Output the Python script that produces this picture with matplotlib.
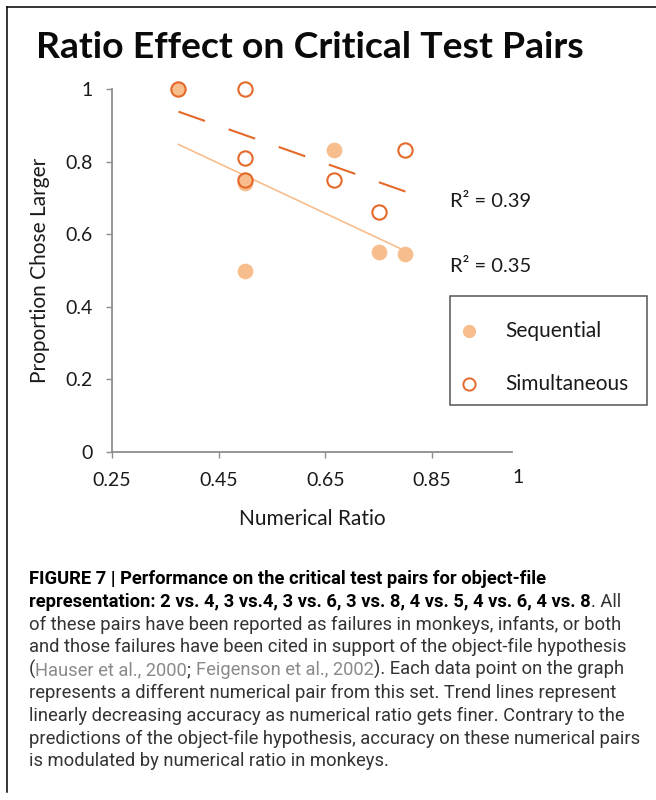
import numpy as np
import matplotlib
matplotlib.use('Agg')
import matplotlib.pyplot as plt
from matplotlib import font_manager
from matplotlib.lines import Line2D
from matplotlib.patches import Rectangle
from matplotlib.transforms import ScaledTranslation

# ---------------- data ----------------
ratio_seq = [0.375, 0.5, 0.5, 0.5, 0.667, 0.75, 0.8]
prop_seq = [1.0, 0.75, 0.74, 0.5, 0.833, 0.55, 0.545]
ratio_sim = [0.375, 0.5, 0.5, 0.5, 0.667, 0.75, 0.8]
prop_sim = [1.0, 1.0, 0.81, 0.75, 0.75, 0.66, 0.833]
x_ticks = [0.25, 0.45, 0.65, 0.85, 1.0]
x_tick_labels = ['0.25', '0.45', '0.65', '0.85', '1']
y_ticks = [0, 0.2, 0.4, 0.6, 0.8, 1.0]
y_tick_labels = ['0', '0.2', '0.4', '0.6', '0.8', '1']
series_names = ['Sequential', 'Simultaneous']
r2_labels = ['R\u00b2 = 0.39', 'R\u00b2 = 0.35']
title = 'Ratio Effect on Critical Test Pairs'
x_label = 'Numerical Ratio'
y_label = 'Proportion Chose Larger'

caption_lines = [
    [("FIGURE 7 | Performance on the critical test pairs for object-file", 'b')],
    [("representation: 2 vs. 4, 3 vs.4, 3 vs. 6, 3 vs. 8, 4 vs. 5, 4 vs. 6, 4 vs. 8", 'b'), (". All", 'r')],
    [("of these pairs have been reported as failures in monkeys, infants, or both", 'r')],
    [("and those failures have been cited in support of the object-file hypothesis", 'r')],
    [("(", 'r'), ("Hauser et al., 2000", 'l'), ("; ", 'r'), ("Feigenson et al., 2002", 'l'),
     ("). Each data point on the graph", 'r')],
    [("represents a different numerical pair from this set. Trend lines represent", 'r')],
    [("linearly decreasing accuracy as numerical ratio gets finer. Contrary to the", 'r')],
    [("predictions of the object-file hypothesis, accuracy on these numerical pairs", 'r')],
    [("is modulated by numerical ratio in monkeys.", 'r')],
]

# ---------------- style ----------------
W, H = 656, 800
SEQ_COLOR = '#F8BD8D'
SIM_COLOR = '#E4692A'
AXIS_COLOR = '#8E8E8E'
TXT = '#1a1a1a'

available = {f.name for f in font_manager.fontManager.ttflist}
MAIN_FONT = 'Lato' if 'Lato' in available else 'DejaVu Sans'
CAP_FONT = 'Liberation Sans Narrow' if 'Liberation Sans Narrow' in available else 'Roboto'

fig = plt.figure(figsize=(W / 100, H / 100), dpi=100)
renderer = fig.canvas.get_renderer()


def fx(px):
    return px / W


def fy(py):
    return 1 - py / H


ax = fig.add_axes([fx(111.7), fy(452), fx(512.3) - fx(111.7), fy(89) - fy(452)])
ax.set_xlim(0.25, 1.0)
ax.set_ylim(0, 1)

# trend lines
xs_seq = np.array(ratio_seq)
xs_sim = np.array(ratio_sim)
p_seq = np.polyfit(xs_seq, prop_seq, 1)
p_sim = np.polyfit(xs_sim, prop_sim, 1)
xl = np.array([xs_seq.min(), xs_seq.max()])
ax.plot(xl, np.polyval(p_seq, xl), color=SEQ_COLOR, lw=1.2, zorder=2)
xl2 = np.array([xs_sim.min(), xs_sim.max()])
ax.plot(xl2, np.polyval(p_sim, xl2), color=SIM_COLOR, lw=1.5,
        linestyle=(0, (13.5, 12)), zorder=2)

# points
ax.plot(ratio_seq, prop_seq, linestyle='none', marker='o', ms=11.3,
        mfc=SEQ_COLOR, mec=SEQ_COLOR, mew=0, clip_on=False, zorder=3)
ax.plot(ratio_sim, prop_sim, linestyle='none', marker='o', ms=10.3,
        mfc='none', mec=SIM_COLOR, mew=1.5, clip_on=False, zorder=4)

# axes styling
for s in ['top', 'right']:
    ax.spines[s].set_visible(False)
for s in ['left', 'bottom']:
    ax.spines[s].set_color(AXIS_COLOR)
    ax.spines[s].set_linewidth(1.3)
ax.set_xticks(x_ticks)
ax.set_xticklabels(x_tick_labels)
ax.set_yticks(y_ticks)
ax.set_yticklabels(y_tick_labels)
ax.tick_params(axis='x', direction='out', length=4.5, width=1.0, color=AXIS_COLOR,
               pad=10, labelsize=14, labelcolor=TXT)
ax.tick_params(axis='y', direction='out', length=4.5, width=1.0, color=AXIS_COLOR,
               pad=9, labelsize=14, labelcolor=TXT)
for lab in ax.get_xticklabels() + ax.get_yticklabels():
    lab.set_family(MAIN_FONT)
# last x tick: no tick mark, label nudged right
ax.xaxis.get_major_ticks()[-1].tick1line.set_visible(False)
last = ax.get_xticklabels()[-1]
last.set_transform(last.get_transform() + ScaledTranslation(6 / 100, 3 / 100, fig.dpi_scale_trans))

ax.set_xlabel(x_label, family=MAIN_FONT, fontsize=15, color=TXT, labelpad=14)
ax.set_ylabel(y_label, family=MAIN_FONT, fontsize=15, color=TXT, labelpad=11)

# R^2 labels
ax.text(0.8837, 0.689, r2_labels[0], family=MAIN_FONT, fontsize=14.5, va='center', color=TXT)
ax.text(0.8837, 0.51, r2_labels[1], family=MAIN_FONT, fontsize=14.5, va='center', color=TXT)

# legend (manual box)
lx0, ly0, lx1, ly1 = 450, 296, 647, 405
fig.add_artist(Rectangle((fx(lx0), fy(ly1)), fx(lx1) - fx(lx0), fy(ly0) - fy(ly1),
                         transform=fig.transFigure, fill=False, ec='#555555', lw=1.1))
fig.add_artist(Line2D([fx(469)], [fy(331)], marker='o', ms=9.5, mfc=SEQ_COLOR, mec=SEQ_COLOR,
                      mew=0, linestyle='none', transform=fig.transFigure))
fig.add_artist(Line2D([fx(469)], [fy(384)], marker='o', ms=8.8, mfc='none', mec=SIM_COLOR,
                      mew=1.4, linestyle='none', transform=fig.transFigure))
fig.text(fx(505), fy(331), series_names[0], family=MAIN_FONT, fontsize=15, va='center', color=TXT)
fig.text(fx(505), fy(384), series_names[1], family=MAIN_FONT, fontsize=15, va='center', color=TXT)

# title, fitted to width
t = fig.text(fx(36), fy(58), title, family=MAIN_FONT, weight='bold', fontsize=27,
             va='baseline', ha='left', color='#0a0a0a')
w = t.get_window_extent(renderer).width
t.set_fontsize(27 * 548 / w)

# frame lines
fig.add_artist(Line2D([fx(7), fx(656)], [fy(7), fy(7)], color='black', lw=1.1, transform=fig.transFigure))
fig.add_artist(Line2D([fx(7), fx(7)], [fy(7), fy(792)], color='black', lw=1.1, transform=fig.transFigure))

# caption
styles = {
    'b': dict(family=CAP_FONT, weight='bold', color='#000000'),
    'r': dict(family=CAP_FONT, weight='normal', color='#333333'),
    'l': dict(family=CAP_FONT, weight='normal', color='#8a8a8a'),
}
probe = fig.text(0, 0, caption_lines[7][0][0], fontsize=14, **styles['r'])
pw = probe.get_window_extent(renderer).width
probe.remove()
cap_size = 14 * 612 / pw

cap_left = 29
first_base = 584
step = 22.8
for i, segs in enumerate(caption_lines):
    x = cap_left
    yb = first_base + i * step
    for txt, st in segs:
        tt = fig.text(fx(x), fy(yb), txt, fontsize=cap_size, va='baseline', ha='left', **styles[st])
        x += tt.get_window_extent(renderer).width

fig.savefig('out.png', dpi=100)
